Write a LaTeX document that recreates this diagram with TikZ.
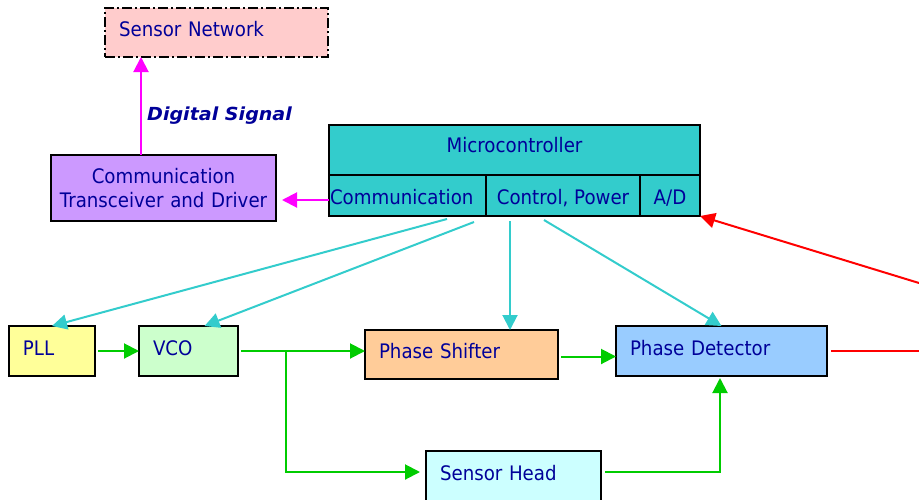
\documentclass[tikz,border=0pt]{standalone}
\usepackage{fontspec}
\setmainfont[FakeStretch=0.91]{DejaVu Sans}
\newfontfamily\labelfont[FakeStretch=1.06]{DejaVu Sans}
\usetikzlibrary{arrows.meta,calc}

\definecolor{txt}{RGB}{0,0,153}
\definecolor{pinkfill}{RGB}{255,204,204}
\definecolor{violetfill}{RGB}{204,153,255}
\definecolor{tealfill}{RGB}{51,204,204}
\definecolor{yellowfill}{RGB}{255,255,153}
\definecolor{mintfill}{RGB}{204,255,204}
\definecolor{peachfill}{RGB}{255,204,153}
\definecolor{skyfill}{RGB}{153,204,255}
\definecolor{icefill}{RGB}{204,255,255}
\definecolor{magline}{RGB}{255,0,255}
\definecolor{grnline}{RGB}{0,204,0}
\definecolor{cyanline}{RGB}{51,204,204}
\definecolor{redline}{RGB}{255,0,0}

\tikzset{
  blk/.style={draw=black, line width=2pt, anchor=north west, outer sep=0pt,
    inner xsep=14pt, inner ysep=0pt, align=left, text=txt,
    text height=15pt, text depth=7pt, minimum height=50pt},
  cell/.style={draw=black, line width=2pt, anchor=north west, outer sep=0pt,
    inner xsep=0pt, inner ysep=0pt, align=center, text=txt, fill=tealfill,
    text height=20pt, text depth=1.5pt, minimum height=41pt},
  tipT/.style={-{Triangle[length=15pt,width=15pt]}},
  magarrow/.style={tipT, draw=magline, line width=2pt},
  grnarrow/.style={tipT, draw=grnline, line width=2pt},
  cyanarrow/.style={tipT, draw=cyanline, line width=2pt},
  redarrow/.style={tipT, draw=redline, line width=2pt},
}

\begin{document}
\begin{tikzpicture}[x=1pt, y=-1pt, font=\fontsize{20}{24}\selectfont]
\useasboundingbox (0,0) rectangle (919,499);

% upper part: network, transceiver, microcontroller
\node[blk, fill=pinkfill, dash pattern=on 10pt off 3pt on 2pt off 3pt,
      minimum height=49pt, text width=195pt] (net) at (105,8) {Sensor Network};
\node[blk, fill=violetfill, align=center, minimum height=66pt, inner xsep=0pt,
      text width=225pt, text height=15pt, text depth=24pt] (ctd) at (51,155)
      {Communication\\Transceiver and Driver};
\node[blk, fill=tealfill, align=center, inner xsep=0pt, minimum width=371pt,
      text height=15pt, text depth=9.5pt] (mcu) at (329,125) {Microcontroller};
\node[cell, align=left, inner xsep=1pt, text width=155pt] (comm) at (329,175) {Communication};
\node[cell, minimum width=154pt] (ctrl) at (486,175) {Control, Power};
\node[cell, minimum width=60pt] (ad) at (640,175) {A/D};

\node[anchor=base west, text=txt, inner sep=0pt,
      font=\labelfont\fontsize{18}{22}\selectfont\bfseries\itshape]
      (dsig) at (147,120) {Digital Signal};

% signal chain
\node[blk, fill=yellowfill, text width=58pt] (pll) at (9,326) {PLL};
\node[blk, fill=mintfill, text width=71pt] (vco) at (139,326) {VCO};
\node[blk, fill=peachfill, minimum height=49pt, text width=165pt] (shift) at (365,330) {Phase Shifter};
\node[blk, fill=skyfill, text width=183pt] (det) at (616,326) {Phase Detector};
\node[blk, fill=icefill, text width=147pt] (head) at (426,451) {Sensor Head};

% magenta links
\draw[magarrow, shorten >=6pt] ([yshift=-4.5pt]comm.west) coordinate (ma) -- (ma -| ctd.east);
\draw[magarrow] ([xshift=-22.5pt]ctd.north) coordinate (mb) -- (mb |- net.south);

% control lines from the microcontroller
\draw[cyanarrow] ([xshift=39.5pt, yshift=-3pt]comm.south) -- (pll.north);
\draw[cyanarrow] ([xshift=66.5pt, yshift=-6pt]comm.south) -- ([xshift=16pt]vco.north);
\draw[cyanarrow] ([xshift=-53pt, yshift=-5pt]ctrl.south) coordinate (cc) -- (cc |- shift.north);
\draw[cyanarrow] ([xshift=-19pt, yshift=-4pt]ctrl.south) -- (det.north);

% oscillator path
\draw[grnarrow, shorten <=3pt] (pll.east) -- (vco.west);
\draw[grnarrow, shorten <=3pt] (vco.east) -- (vco.east -| shift.west);
\coordinate (br) at ($(vco.east)+(48,0)$);
\draw[grnarrow, shorten >=6pt] (br) |- ([yshift=4pt]head.west);
\draw[grnarrow, shorten <=3pt] ([yshift=-2pt]shift.east) coordinate (sa) -- (sa -| det.west);
\draw[grnarrow, shorten <=4pt, shorten >=2pt] ([yshift=4pt]head.east) -| ([xshift=-1.5pt]det.south);

% outgoing and returning signals at the right edge
\coordinate (rout) at (919,351);
\coordinate (rin) at (919,283);
\draw[redline, line width=2pt, shorten <=4pt] (det.east) -- (rout);
\draw[redarrow] (rin) -- (ad.south east);
\end{tikzpicture}
\end{document}
